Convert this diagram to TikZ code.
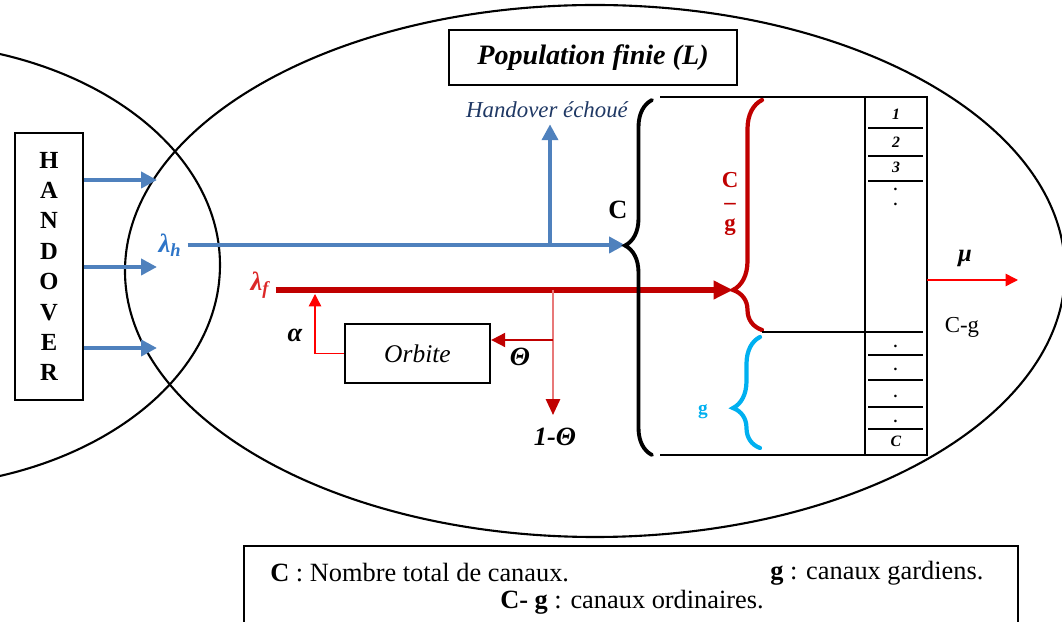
\documentclass[tikz,border=0pt]{standalone}
\usepackage{fontspec}
\setmainfont{Liberation Serif}
\usetikzlibrary{arrows.meta,positioning,decorations.pathreplacing}
\definecolor{hoBlue}{RGB}{79,129,189}
\definecolor{hoLamH}{RGB}{46,117,200}
\definecolor{hoRed}{RGB}{192,0,0}
\definecolor{hoLamF}{RGB}{220,40,40}
\definecolor{hoBrightRed}{RGB}{255,0,0}
\definecolor{hoPink}{RGB}{232,120,120}
\definecolor{hoCyan}{RGB}{0,176,240}
\definecolor{hoText}{RGB}{31,56,100}
\newcommand{\fsz}[1]{\fontsize{#1}{#1}\selectfont}

\begin{document}
\begin{tikzpicture}[font=\fsz{13}]
\tikzstyle{box}=[draw, line width=0.9pt, inner sep=0pt]
\tikzstyle{blarr}=[hoBlue, line width=2.6pt, -{Triangle[length=9pt, width=9pt]}]
\tikzstyle{rdarr}=[hoRed, line width=3.2pt, -{Triangle[length=11pt, width=10pt]}]
\tikzstyle{thinred}=[hoBrightRed, line width=0.8pt, -{Triangle[length=7pt, width=7pt]}]
\tikzstyle{lbl}=[font=\fsz{15}\bfseries\itshape]
\clip (0,0) rectangle (21.24,12.44);
% the two cells
\draw[line width=1.2pt] (11.90,7.02) ellipse (9.40 and 5.32);
\draw[line width=1.2pt] (-2.00,7.14) ellipse (6.40 and 4.44);
\node[box, minimum width=5.76cm, minimum height=1.10cm, font=\fsz{16}\bfseries\itshape] (pop) at (11.86,11.29) {Population finie (L)};
% handover source
\node[box, minimum width=1.36cm, minimum height=5.34cm, align=center, font=\fontsize{14}{17.3}\selectfont\bfseries] (hbox) at (0.98,7.11) {H\\A\\N\\D\\O\\V\\E\\R};
\foreach \y/\n in {8.84/a,7.10/b,5.48/c}{\coordinate (in\n) at (3.14,\y); \draw[blarr] (hbox.east |- in\n) -- (in\n);}
% handover flow
\node[text=hoLamH, font=\fsz{15}\bfseries\itshape] (lamh) at (3.40,7.54) {λ\textsubscript{h}};
\coordinate (ctip) at (12.50,7.54);
\coordinate (split) at (11.00,7.54);
\draw[blarr] (lamh) -- (ctip);
\node[text=hoText, font=\fsz{13}\itshape] (fail) at (10.94,10.24) {Handover échoué};
\draw[blarr] (split) -- (split |- fail.south);
% new calls and orbit
\node[text=hoLamF, font=\fsz{15}\bfseries\itshape] (lamf) at (5.20,6.74) {λ\textsubscript{f}};
\coordinate (ftip) at (14.66,6.64);
\draw[rdarr] (lamf.east |- ftip) -- (ftip);
\node[box, line width=1.3pt, minimum width=2.90cm, minimum height=1.18cm, font=\fsz{14.5}\itshape] (orb) at (8.35,5.37) {Orbite};
\coordinate (aup) at (6.30,6.56);
\draw[thinred] (orb.west) -| (aup);
\node[lbl] (alpha) at (5.90,5.74) {α};
\coordinate (fsplit) at (11.06,6.64);
\coordinate (fdown) at (11.06,4.14);
\coordinate (th) at (11.06,5.64);
\draw[hoPink, line width=1.3pt, -{Triangle[length=9pt, width=8pt, fill=hoRed, color=hoRed]}] (fsplit) -- (fdown);
\draw[hoRed, line width=1.1pt, -{Triangle[length=8pt, width=8pt]}] (th) -- (orb.east |- th);
\node[lbl] (theta) at (10.40,5.30) {Θ};
\node[lbl] (onetheta) at (11.10,3.70) {1-Θ};
% channels
\draw[line width=2.2pt, line cap=round, decorate, decoration={brace, amplitude=0.54cm, aspect=0.59}] (13.04,3.34) -- (13.04,10.44);
\node[font=\fsz{15}\bfseries] (clab) at (12.36,8.24) {C};
\draw[hoRed, line width=2.4pt, line cap=round, decorate, decoration={brace, amplitude=0.58cm, aspect=0.174}] (15.24,5.84) -- (15.24,10.44);
\node[text=hoRed, align=center, font=\fontsize{13}{12}\selectfont\bfseries] (cglab) at (14.60,8.36) {C\\–\\g};
\draw[hoCyan, line width=2.4pt, line cap=round, decorate, decoration={brace, amplitude=0.54cm, aspect=0.36}] (15.20,3.48) -- (15.20,5.70);
\node[text=hoCyan, font=\fsz{11}\bfseries] (glab) at (14.06,4.20) {g};
\draw[line width=0.9pt] (13.20,10.50) -- (18.54,10.50) -- (18.54,3.34) -- (13.20,3.34);
\draw[line width=0.9pt] (17.30,10.50) -- (17.30,3.34);
\draw[line width=0.9pt] (15.24,5.80) -- (18.46,5.80);
\foreach \y in {9.88,9.32,8.82,5.34,4.84,4.30,3.86}{\draw[line width=0.9pt] (17.36,\y) -- (18.46,\y);}
\foreach \y/\t [count=\i] in {10.16/1,9.60/2,9.10/3,8.66/.,8.36/.,5.52/.,5.06/.,4.52/.,4.02/.,3.62/C}{\node[font=\fsz{9}\bfseries\itshape, inner sep=1pt] (cell\i) at (17.92,\y) {\t};}
% service
\coordinate (mustart) at (18.54,6.84);
\coordinate (muend) at (20.36,6.84);
\draw[thinred] (mustart) -- (muend);
\node[font=\fsz{14}\bfseries\itshape] (mu) at (19.30,7.28) {μ};
\node (cgo) at (19.24,5.90) {C-g};
% legend
\node[box, anchor=north, minimum width=15.48cm, minimum height=1.8cm] (leg) at (12.62,1.54) {};
\node[anchor=west, inner sep=0pt, font=\fsz{15}] (legc) at (5.40,0.98) {\textbf{C} : Nombre total de canaux.};
\node[anchor=west, inner sep=0pt, font=\fsz{15}] (legg) at (15.40,0.98) {\textbf{g} : canaux gardiens.};
\node[inner sep=0pt, font=\fsz{15}] (legcg) at (12.64,0.40) {\textbf{C- g} : canaux ordinaires.};
\end{tikzpicture}
\end{document}
